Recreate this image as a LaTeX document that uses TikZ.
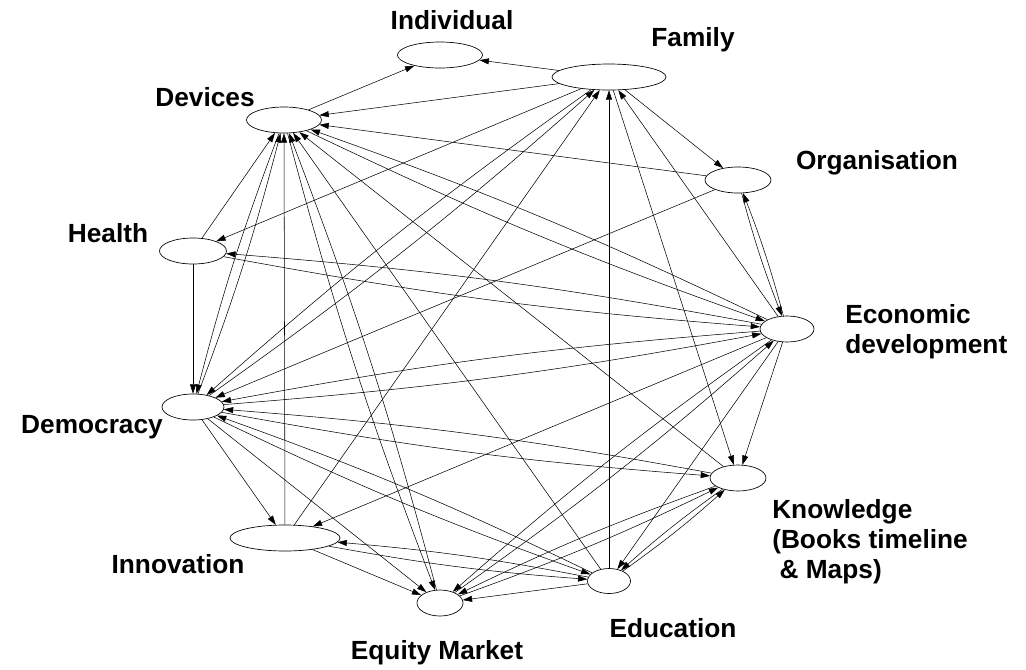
\documentclass[tikz,border=0pt]{standalone}
\usepackage{fontspec}
\setmainfont{Liberation Sans}
\usetikzlibrary{arrows.meta,shapes.geometric}

\begin{document}
\begin{tikzpicture}[x=0.75pt,y=0.75pt,yscale=-1,xscale=1,
  state/.style={draw, ellipse, line width=0.5pt, inner sep=0pt, minimum height=19.5pt},
  lbl/.style={inner sep=0.75pt, font=\fontsize{19.7}{22.5}\selectfont\bfseries},
  link/.style={-{Triangle[length=7pt,width=4.5pt]}, line width=0.4pt},
  twin/.style={link, bend left=3}]
\useasboundingbox (0,0) rectangle (1026,669);

%Shape: Ellipse
\node [state, minimum width=63.75pt] (ind) at (440,55) {};
%Shape: Ellipse
\node [state, minimum width=85.5pt] (fam) at (609,77) {};
%Shape: Ellipse
\node [state, minimum width=56.25pt] (dev) at (284,120) {};
%Shape: Ellipse
\node [state, minimum width=49.5pt] (org) at (738,180) {};
%Shape: Ellipse
\node [state, minimum width=50.25pt] (hea) at (193,251) {};
%Shape: Ellipse
\node [state, minimum width=40.5pt] (eco) at (787,329) {};
%Shape: Ellipse
\node [state, minimum width=46.5pt] (dem) at (193,407) {};
%Shape: Ellipse
\node [state, minimum width=42pt] (kno) at (738,478) {};
%Shape: Ellipse
\node [state, minimum width=82.5pt] (inn) at (285,538) {};
%Shape: Ellipse
\node [state, minimum width=32.25pt, minimum height=18.75pt] (edu) at (609,581) {};
%Shape: Ellipse
\node [state, minimum width=34.5pt] (equ) at (440,603) {};

%Straight Lines
\draw [link] (fam) to (ind) ;
\draw [link] (dev) to (ind) ;
\draw [link] (fam) to (dev) ;
\draw [link] (org) to (dev) ;
\draw [link] (fam) to (hea) ;
\draw [link] (fam) to (org) ;
\draw [link] (fam) to (kno) ;
\draw [link] (inn) to (fam) ;
\draw [link] (edu) to (fam) ;
\draw [link] (eco) to (fam) ;
\draw [link] (org) to (dem) ;
\draw [link] (hea) to (dev) ;
\draw [link] (hea) to (dem) ;
\draw [link] (inn) to (dev) ;
\draw [link] (edu) to (dev) ;
\draw [link] (kno) to (dev) ;
\draw [link] (dem) to (inn) ;
\draw [link] (eco) to (inn) ;
\draw [link] (inn) to (equ) ;
\draw [link] (eco) to (kno) ;
\draw [link] (eco) to (edu) ;
\draw [link] (edu) to (equ) ;
\draw [link] (dem) to (equ) ;

%Straight Lines, both ways
\draw [twin] (fam) to (dem) ;
\draw [twin] (dem) to (fam) ;
\draw [twin] (org) to (eco) ;
\draw [twin] (eco) to (org) ;
\draw [twin] (hea) to (eco) ;
\draw [twin] (eco) to (hea) ;
\draw [twin] (dev) to (dem) ;
\draw [twin] (dem) to (dev) ;
\draw [twin] (dev) to (equ) ;
\draw [twin] (equ) to (dev) ;
\draw [twin] (dev) to (eco) ;
\draw [twin] (eco) to (dev) ;
\draw [twin] (dem) to (eco) ;
\draw [twin] (eco) to (dem) ;
\draw [twin] (dem) to (kno) ;
\draw [twin] (kno) to (dem) ;
\draw [twin] (dem) to (edu) ;
\draw [twin] (edu) to (dem) ;
\draw [twin] (inn) to (edu) ;
\draw [twin] (edu) to (inn) ;
\draw [twin] (eco) to (equ) ;
\draw [twin] (equ) to (eco) ;
\draw [twin] (kno) to (equ) ;
\draw [twin] (equ) to (kno) ;
\draw [twin] (edu) to (kno) ;
\draw [twin] (kno) to (edu) ;

% Text Node
\node [lbl] (tind) at (452,20) {Individual};
% Text Node
\node [lbl] (tfam) at (693,40) {Family};
% Text Node
\node [lbl] (tdev) at (205,97) {Devices};
% Text Node
\node [lbl] (torg) at (877,163) {Organisation};
% Text Node
\node [lbl] (thea) at (108,233) {Health};
% Text Node
\node [lbl, anchor=west, align=left] (teco) at (844,332) {Economic\\development};
% Text Node
\node [lbl] (tdem) at (92,427) {Democracy};
% Text Node
\node [lbl, anchor=west, align=left] (tkno) at (771,542) {Knowledge\\(Books timeline\\\hspace*{0.28em}\& Maps)};
% Text Node
\node [lbl] (tinn) at (178,564) {Innovation};
% Text Node
\node [lbl] (tedu) at (673,628) {Education};
% Text Node
\node [lbl] (tequ) at (437,653) {Equity Market};

\end{tikzpicture}
\end{document}
